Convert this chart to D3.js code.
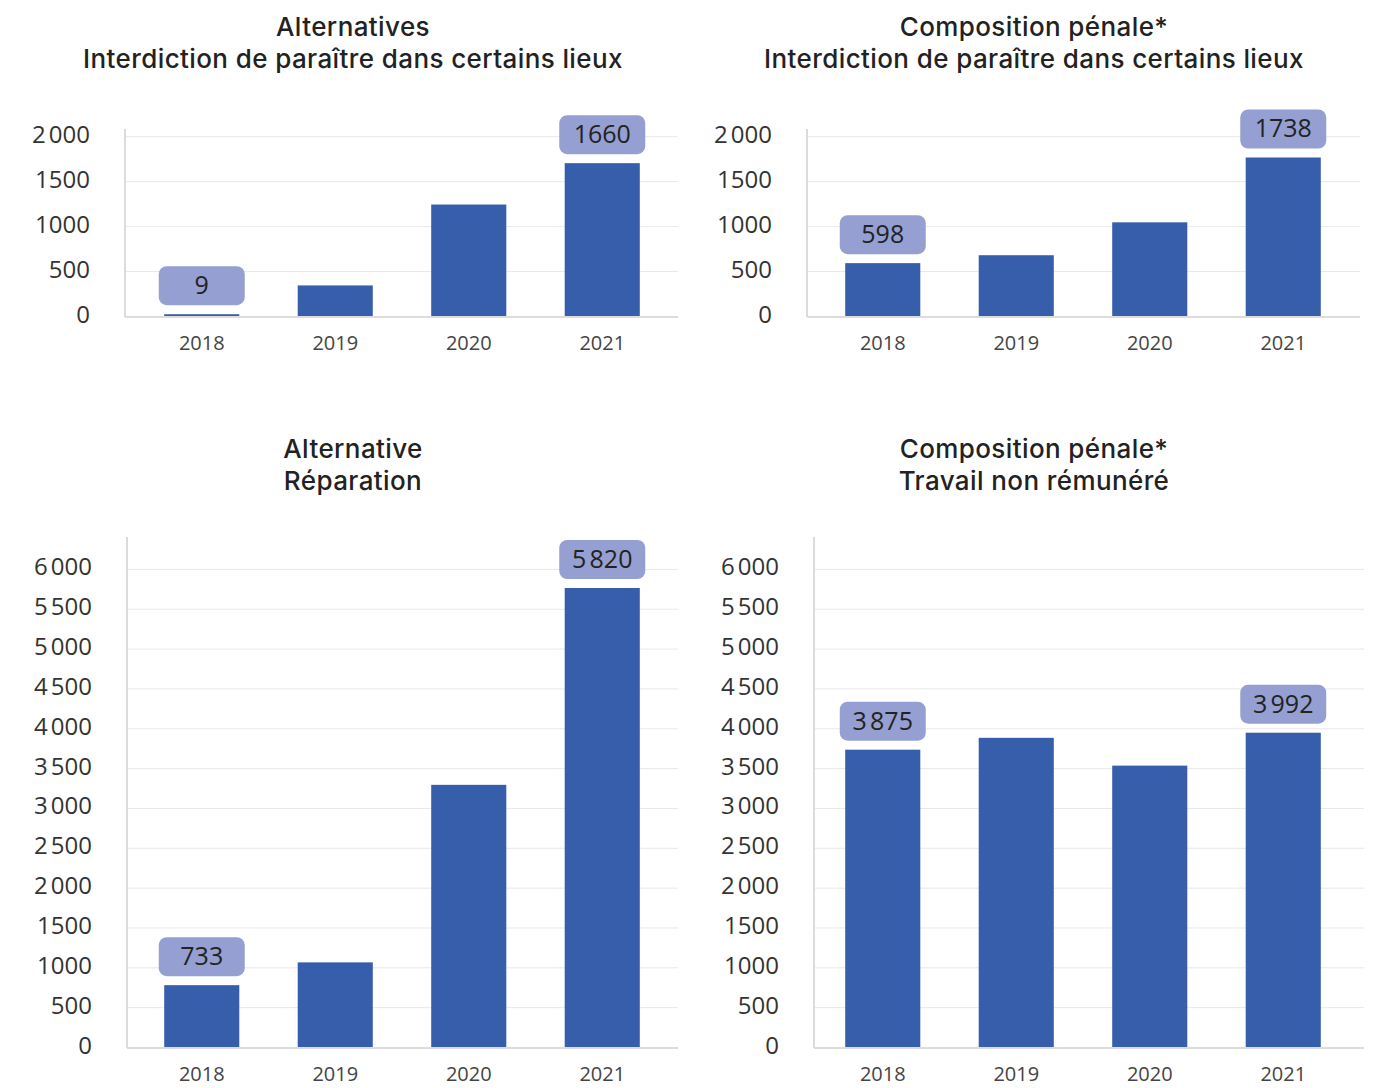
<!DOCTYPE html>
<html>
<head>
<meta charset="utf-8">
<script src="https://cdn.jsdelivr.net/npm/d3@7"></script>
<style>
  body { margin: 0; background: #fff; }
  svg { display: block; }
</style>
</head>
<body>
<svg id="chart" width="1377" height="1088"></svg>
<script>
// categories
var years = ["2018", "2019", "2020", "2021"];

// bar heights
var interdictionAlt = [20, 340, 1240, 1700];
var interdictionComp = [588, 676, 1042, 1763];
var reparationAlt = [776, 1062, 3290, 5760];
var travailComp = [3731, 3880, 3531, 3944];

// value labels printed in the boxes ("" = no box)
var interdictionAltLabels = ["9", "", "", "1660"];
var interdictionCompLabels = ["598", "", "", "1738"];
var reparationAltLabels = ["733", "", "", "5\u202F820"];
var travailCompLabels = ["3\u202F875", "", "", "3\u202F992"];

// y ticks
var smallTicks = [0, 500, 1000, 1500, 2000];
var smallTickLabels = ["0", "500", "1000", "1500", "2\u202F000"];
var bigTicks = [0, 500, 1000, 1500, 2000, 2500, 3000, 3500, 4000, 4500, 5000, 5500, 6000];
var bigTickLabels = ["0", "500", "1000", "1500", "2\u202F000", "2\u202F500", "3\u202F000", "3\u202F500",
  "4\u202F000", "4\u202F500", "5\u202F000", "5\u202F500", "6\u202F000"];

var barColor = "#375eab",
    boxColor = "#959fd1",
    gridColor = "#e8e8e8",
    axisColor = "#dcdcdc",
    font = "'Open Sans', 'Noto Sans', sans-serif",
    titleFont = "Inter, 'Open Sans', sans-serif";

var svg = d3.select("#chart");

// draws one panel
function panel(opt) {
  var g = svg.append("g");

  var x = d3.scaleBand()
    .domain(years)
    .range(opt.xRange)
    .paddingInner(0.4375)
    .paddingOuter(0.21875);

  var y = d3.scaleLinear()
    .domain([0, opt.max])
    .range([opt.bottom, opt.top]);

  // title, one text per line
  g.selectAll(".title")
    .data(opt.title).enter()
    .append("text")
      .attr("class", "title")
      .attr("x", opt.cx)
      .attr("y", function(d, i) { return opt.titleY + i * 32; })
      .attr("text-anchor", "middle")
      .style("font-family", titleFont)
      .style("font-size", "26px")
      .style("font-weight", 500)
      .style("letter-spacing", "0.4px")
      .style("fill", "#222")
      .text(function(d) { return d; });

  // grid + y labels
  var yAxis = g.append("g")
    .attr("transform", "translate(" + opt.left + ",0)")
    .call(d3.axisLeft(y)
      .tickValues(opt.ticks)
      .tickSize(-opt.gridW)
      .tickPadding(35)
      .tickFormat(function(d, i) { return opt.tickLabels[i]; }));
  yAxis.select(".domain").remove();
  yAxis.selectAll(".tick line").attr("stroke", gridColor).attr("stroke-width", 1);
  yAxis.selectAll(".tick text")
    .attr("dy", "0.25em")
    .style("font-family", font)
    .style("font-size", "24px")
    .style("fill", "#333");

  // axis lines
  g.append("line")
    .attr("x1", opt.left).attr("x2", opt.left)
    .attr("y1", y(opt.max)).attr("y2", opt.bottom + 1)
    .attr("stroke", axisColor).attr("stroke-width", 2);
  g.append("line")
    .attr("x1", opt.left).attr("x2", opt.left + opt.gridW)
    .attr("y1", opt.bottom + 1).attr("y2", opt.bottom + 1)
    .attr("stroke", axisColor).attr("stroke-width", 2);

  // bars
  g.selectAll(".bar")
    .data(opt.values).enter()
    .append("rect")
      .attr("class", "bar")
      .attr("x", function(d, i) { return x(years[i]); })
      .attr("width", x.bandwidth())
      .attr("y", function(d) { return y(d); })
      .attr("height", function(d) { return opt.bottom - y(d); })
      .style("fill", barColor);

  // x labels
  var xAxis = g.append("g")
    .attr("transform", "translate(0," + opt.bottom + ")")
    .call(d3.axisBottom(x).tickSize(0).tickPadding(20));
  xAxis.select(".domain").remove();
  xAxis.selectAll(".tick text")
    .style("font-family", font)
    .style("font-size", "20px")
    .style("fill", "#444");

  // value boxes
  var lab = g.selectAll(".lab")
    .data(opt.values.map(function(v, i) { return {v: v, i: i, t: opt.labels[i]}; })
      .filter(function(d) { return d.t !== ""; }))
    .enter().append("g")
    .attr("class", "lab")
    .attr("transform", function(d) {
      return "translate(" + (x(years[d.i]) + x.bandwidth() / 2) + "," + (y(d.v) - 29) + ")";
    });
  lab.append("rect")
    .attr("x", -43).attr("y", -19)
    .attr("width", 86).attr("height", 39)
    .attr("rx", 8)
    .style("fill", boxColor);
  lab.append("text")
    .attr("text-anchor", "middle")
    .attr("dy", "0.36em")
    .style("font-family", font)
    .style("font-size", "25px")
    .style("fill", "#222")
    .text(function(d) { return d.t; });
}

panel({ title: ["Alternatives", "Interdiction de paraître dans certains lieux"], cx: 353, titleY: 36,
  left: 125, top: 129, bottom: 316, max: 2080, gridW: 553, xRange: [135, 669],
  values: interdictionAlt, labels: interdictionAltLabels, ticks: smallTicks, tickLabels: smallTickLabels });
panel({ title: ["Composition pénale*", "Interdiction de paraître dans certains lieux"], cx: 1034, titleY: 36,
  left: 807, top: 129, bottom: 316, max: 2080, gridW: 553, xRange: [816, 1350],
  values: interdictionComp, labels: interdictionCompLabels, ticks: smallTicks, tickLabels: smallTickLabels });
panel({ title: ["Alternative", "Réparation"], cx: 353, titleY: 458,
  left: 127, top: 537, bottom: 1047, max: 6400, gridW: 551, xRange: [135, 669],
  values: reparationAlt, labels: reparationAltLabels, ticks: bigTicks, tickLabels: bigTickLabels });
panel({ title: ["Composition pénale*", "Travail non rémunéré"], cx: 1034, titleY: 458,
  left: 814, top: 537, bottom: 1047, max: 6400, gridW: 550, xRange: [816, 1350],
  values: travailComp, labels: travailCompLabels, ticks: bigTicks, tickLabels: bigTickLabels });
</script>
</body>
</html>
